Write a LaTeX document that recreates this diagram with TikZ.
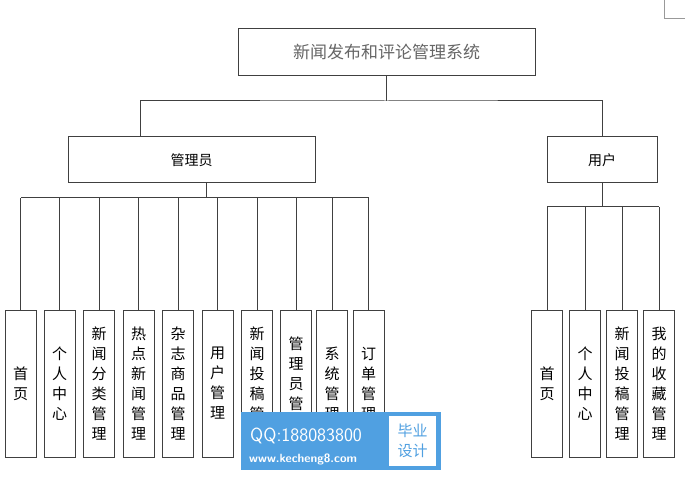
\documentclass[tikz,border=0pt]{standalone}
\usepackage{fontspec}
\newfontfamily\cjk{Noto Sans CJK SC}
\definecolor{wm}{RGB}{80,160,225}
\begin{document}
\begin{tikzpicture}[x=1pt,y=-1pt,
  box/.style={draw=black!75,line width=1pt,fill=white,inner sep=0pt},
  leaf/.style={box,minimum width=31pt,minimum height=147pt,align=center,font=\cjk\fontsize{15}{20}\selectfont},
  ln/.style={draw=black!75,line width=1pt}]
\useasboundingbox (0,0) rectangle (685,478);
\node[box,minimum width=297pt,minimum height=47pt,font=\cjk\fontsize{17}{20}\selectfont,text=black!60] (root) at (386.5,52.5) {新闻发布和评论管理系统};
\node[box,minimum width=247pt,minimum height=46pt,font=\cjk\fontsize{14}{16}\selectfont] (adm) at (191.5,160) {管理员};
\node[box,minimum width=110pt,minimum height=46pt,font=\cjk\fontsize{14}{16}\selectfont] (usr) at (602,160) {用户};
\coordinate (j1) at (386.5,101);
\draw[ln] (root.south) -- (j1);
\draw[ln] (adm.north -| 140,0) |- (j1) -| (usr.north);
\foreach \n/\x/\t in {a1/20.5/首\\页, a2/59.5/个\\人\\中\\心, a3/99/新\\闻\\分\\类\\管\\理, a4/138.5/热\\点\\新\\闻\\管\\理, a5/178/杂\\志\\商\\品\\管\\理, a6/217.5/用\\户\\管\\理, a7/257/新\\闻\\投\\稿\\管\\理, a8/296/管\\理\\员\\管\\理, a9/332/系\\统\\管\\理, a10/368.5/订\\单\\管\\理}{
  \node[leaf] (\n) at (\x,383.5) {\t};
  \draw[ln] (\n.north) -- (\x,198);
}
\draw[ln] (a1.north |- 0,198) -- (a10.north |- 0,198);
\draw[ln] (206,183) -- (206,198);
\foreach \n/\x/\t in {b1/547/首\\页, b2/585/个\\人\\中\\心, b3/622/新\\闻\\投\\稿\\管\\理, b4/659/我\\的\\收\\藏\\管\\理}{
  \node[leaf] (\n) at (\x,383.5) {\t};
  \draw[ln] (\n.north) -- (\x,207);
}
\draw[ln] (b1.north |- 0,207) -- (b4.north |- 0,207);
\draw[ln] (usr.south) -- (602,207);
% watermark
\fill[wm] (241,412) rectangle (441,470);
\node[font=\sffamily\fontsize{19}{20}\selectfont,text=white,anchor=west,inner sep=0pt] (qq) at (250,436) {QQ:188083800};
\node[font=\sffamily\bfseries\fontsize{12}{12}\selectfont,text=white,anchor=west,inner sep=0pt] (www) at (249,459) {www.kecheng8.com};
\fill[white] (389,416) rectangle (436,466);
\node[font=\cjk\fontsize{15}{20}\selectfont,text=wm,align=center] (by) at (412.5,441) {毕业\\设计};
\draw[black!40,line width=0.6pt] (664,0) -- (664,18) -- (685,18);
\end{tikzpicture}
\end{document}
